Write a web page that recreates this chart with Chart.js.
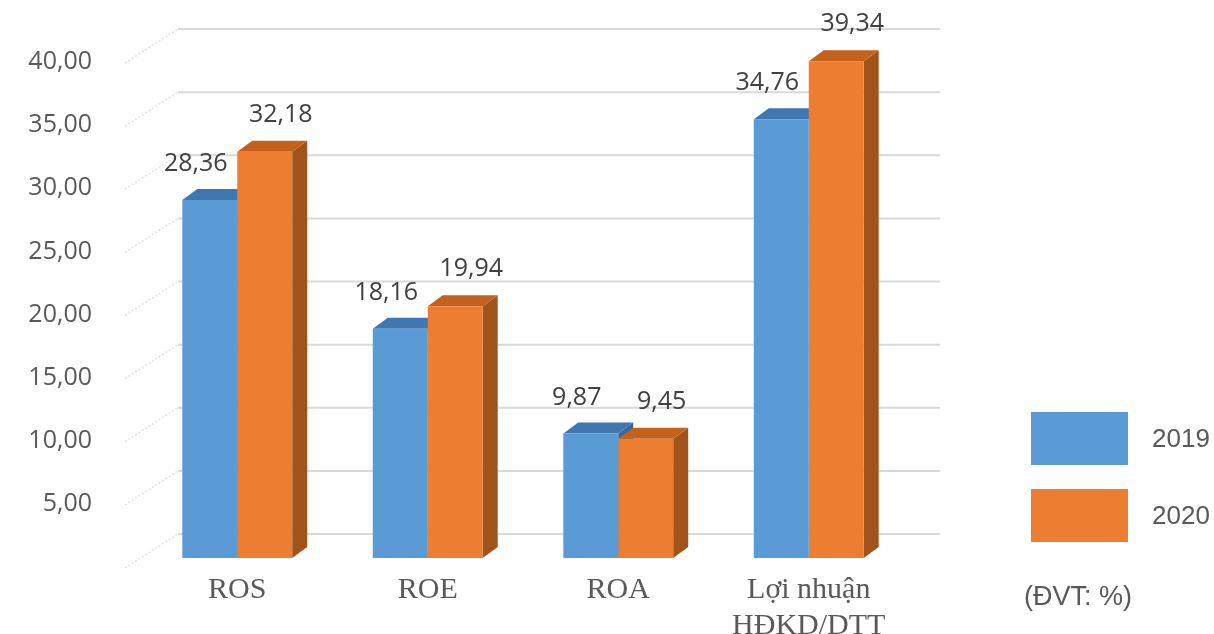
<!DOCTYPE html>
<html>
<head>
<meta charset="utf-8">
<script src="https://cdn.jsdelivr.net/npm/chart.js@4/dist/chart.umd.min.js"></script>
<style>
  html, body { margin: 0; padding: 0; background: #ffffff; }
  #wrap { width: 1214px; height: 634px; position: relative; }
</style>
</head>
<body>
<div id="wrap"><canvas id="c" width="1214" height="634"></canvas></div>
<script>
const categories = ['ROS', 'ROE', 'ROA', ['Lợi nhuận', 'HĐKD/DTT']];
const seriesNames = ['2019', '2020'];
const values2019 = [28.36, 18.16, 9.87, 34.76];
const values2020 = [32.18, 19.94, 9.45, 39.34];
const yMin = 0, yMax = 40, yStep = 5;
const unitNote = '(ĐVT: %)';

const frontColors = ['#5B9BD5', '#ED7D31'];
const topColors = ['#3F77B0', '#C4621D'];
const sideColors = ['#3A6796', '#A0541B'];
const DEPTH_X = 15, DEPTH_Y = -11;   // bar depth
const WALL_X = 36, WALL_Y = -24;     // back wall offset from bar plane
const FRONT_X = -17, FRONT_Y = 10;   // front edge of side wall

const fmt = v => v.toFixed(2).replace('.', ',');

const threeD = {
  id: 'threeD',
  beforeDatasetsDraw(chart) {
    const ctx = chart.ctx, ys = chart.scales.y, ca = chart.chartArea;
    ctx.save();
    for (let v = yMin; v <= yMax; v += yStep) {
      const y = ys.getPixelForValue(v);
      ctx.strokeStyle = '#D9D9D9';
      ctx.lineWidth = 2;
      ctx.beginPath();
      ctx.moveTo(ca.left + WALL_X, y + WALL_Y);
      ctx.lineTo(ca.right + WALL_X, y + WALL_Y);
      ctx.stroke();
      ctx.strokeStyle = '#E2E2E2';
      ctx.lineWidth = 1.5;
      ctx.setLineDash([2, 2]);
      ctx.beginPath();
      ctx.moveTo(ca.left + FRONT_X, y + FRONT_Y);
      ctx.lineTo(ca.left + WALL_X, y + WALL_Y);
      ctx.stroke();
      ctx.setLineDash([]);
    }
    const metas = chart.data.datasets.map((d, i) => chart.getDatasetMeta(i));
    const n = chart.data.labels.length;
    for (let i = 0; i < n; i++) {
      metas.forEach((meta, di) => {
        const el = meta.data[i];
        const l = el.x - el.width / 2, r = el.x + el.width / 2, t = el.y, b = el.base;
        ctx.fillStyle = sideColors[di];
        ctx.beginPath();
        ctx.moveTo(r, t); ctx.lineTo(r + DEPTH_X, t + DEPTH_Y);
        ctx.lineTo(r + DEPTH_X, b + DEPTH_Y); ctx.lineTo(r, b);
        ctx.closePath(); ctx.fill();
        ctx.fillStyle = topColors[di];
        ctx.beginPath();
        ctx.moveTo(l, t); ctx.lineTo(r, t);
        ctx.lineTo(r + DEPTH_X, t + DEPTH_Y); ctx.lineTo(l + DEPTH_X, t + DEPTH_Y);
        ctx.closePath(); ctx.fill();
      });
    }
    ctx.restore();
  },
  afterDatasetsDraw(chart) {
    const ctx = chart.ctx;
    ctx.save();
    ctx.font = '25px "Open Sans"';
    ctx.fillStyle = '#404040';
    ctx.textAlign = 'center';
    ctx.textBaseline = 'middle';
    const offs = [[-14, -36], [16, -37]];
    chart.data.datasets.forEach((ds, di) => {
      const meta = chart.getDatasetMeta(di);
      meta.data.forEach((el, i) => {
        ctx.fillText(fmt(ds.data[i]), el.x + offs[di][0], el.y + offs[di][1]);
      });
    });
    ctx.restore();
  },
  afterDraw(chart) {
    const ctx = chart.ctx, ca = chart.chartArea;
    ctx.save();
    const bx = ca.right + 127;
    const bw = 97, bh = 53;
    const tops = [412, 489];
    ctx.font = '26px "Liberation Sans"';
    ctx.textBaseline = 'middle';
    ctx.textAlign = 'left';
    chart.data.datasets.forEach((ds, di) => {
      ctx.fillStyle = ds.backgroundColor;
      ctx.fillRect(bx, tops[di], bw, bh);
      ctx.fillStyle = '#595959';
      ctx.fillText(ds.label, bx + 121, tops[di] + bh / 2 + 1);
    });
    ctx.font = '27px "Liberation Sans"';
    ctx.fillText(unitNote, bx - 7, 598);
    ctx.restore();
  }
};

new Chart(document.getElementById('c'), {
  type: 'bar',
  data: {
    labels: categories,
    datasets: [
      { label: seriesNames[0], data: values2019, backgroundColor: frontColors[0] },
      { label: seriesNames[1], data: values2020, backgroundColor: frontColors[1] }
    ]
  },
  options: {
    responsive: false,
    animation: false,
    layout: { padding: { top: 53, right: 310, left: 0, bottom: 0 } },
    datasets: { bar: { categoryPercentage: 0.577, barPercentage: 1.0 } },
    plugins: { legend: { display: false }, tooltip: { enabled: false } },
    scales: {
      x: {
        grid: { display: false, drawTicks: false },
        border: { display: false },
        ticks: { font: { family: '"Liberation Serif"', size: 30 }, color: '#595959', padding: 14 },
        afterFit(scale) { scale.height = 76; }
      },
      y: {
        min: yMin, max: yMax,
        grid: { display: false, drawTicks: false },
        border: { display: false },
        ticks: {
          stepSize: yStep,
          font: { family: '"Open Sans"', size: 25 },
          color: '#595959',
          padding: 50,
          labelOffset: 9,
          callback: v => (v === 0 ? '' : fmt(v))
        },
        afterFit(scale) { scale.width = 142; scale.paddingTop = 0; scale.paddingBottom = 0; }
      }
    }
  },
  plugins: [threeD]
});
</script>
</body>
</html>
